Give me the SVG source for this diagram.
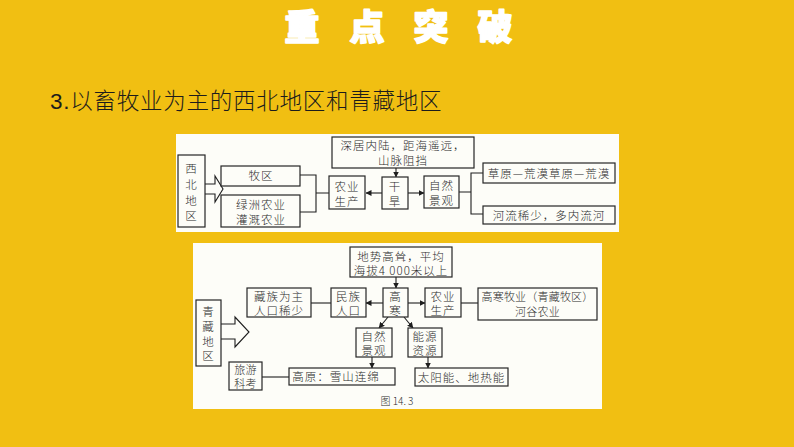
<svg xmlns="http://www.w3.org/2000/svg" width="794" height="447" viewBox="0 0 794 447">
<style>
text{font-family:"Noto Sans CJK SC","Liberation Serif",serif;fill:#2c2c2c;font-size:11.500px;font-weight:300;text-anchor:middle;letter-spacing:1px}
.s{font-size:11px;letter-spacing:.2px}
.box{fill:#fdfdf8;stroke:#262626;stroke-width:1.2}
.ln{fill:none;stroke:#1e1e1e;stroke-width:1.1}
.arw{marker-end:url(#a)}
.title{fill:#fff;font-size:35px;font-weight:900;stroke:#fff;stroke-width:1.6;stroke-linejoin:round;letter-spacing:0}
.head{fill:#1c1c1c;font-size:22.500px;font-weight:300;text-anchor:start;letter-spacing:.75px}
</style>
<defs><marker id="a" viewBox="0 0 6 6" refX="5.500" refY="3" markerWidth="6" markerHeight="6" orient="auto" markerUnits="userSpaceOnUse"><path d="M0 0L6 3L0 6Z" fill="#1e1e1e"/></marker></defs>
<rect width="794" height="447" fill="#f1bf12"/>
<g id="heading">
<text class="title" x="302" y="40">重</text><text class="title" x="367" y="40">点</text><text class="title" x="431" y="40">突</text><text class="title" x="495" y="40">破</text>
<text class="head" x="50" y="109"><tspan font-family="Liberation Sans">3.</tspan>以畜牧业为主的西北地区和青藏地区</text>
</g>
<rect x="176" y="134" width="443" height="98" fill="#fdfdf8"/>
<rect x="193" y="243" width="409" height="166" fill="#fdfdf8"/>
<g id="connectors">
<path class="ln" d="M205 184H215V176L223 189L215 202V194H205"/>
<path class="ln" d="M300 175H316V212H300M316 193H329"/>
<path class="ln arw" d="M382 193H366"/>
<path class="ln arw" d="M396 168V177"/>
<path class="ln arw" d="M408 193H424"/>
<path class="ln" d="M459 192H471M483 173H471V214H483"/>
<path class="ln" d="M221 324H235V317L249 332L235 347V339H221"/>
<path class="ln arw" d="M396 277V288"/>
<path class="ln arw" d="M383 303H366"/>
<path class="ln" d="M331 303H311"/>
<path class="ln arw" d="M408 303H425"/>
<path class="ln" d="M461 303H478"/>
<path class="ln arw" d="M388 317L379 328"/>
<path class="ln arw" d="M404 317L413 328"/>
<path class="ln arw" d="M372 357V368"/>
<path class="ln arw" d="M428 357V368"/>
<path class="ln" d="M262 377H289"/>
</g>
<g id="n-xibei"><rect class="box" x="178" y="155" width="27" height="72"/><text><tspan x="191.500" y="173">西</tspan><tspan x="191.500" y="189">北</tspan><tspan x="191.500" y="205">地</tspan><tspan x="191.500" y="220">区</tspan></text></g>
<g id="n-muqu"><rect class="box" x="221" y="166" width="79" height="20"/><text x="261" y="180">牧区</text></g>
<g id="n-lvzhou"><rect class="box" x="221" y="195" width="79" height="32"/><text><tspan x="261" y="209">绿洲农业</tspan><tspan x="261" y="224">灌溉农业</tspan></text></g>
<g id="n-nongye1"><rect class="box" x="329" y="176" width="36" height="33"/><text><tspan x="347" y="191">农业</tspan><tspan x="347" y="206">生产</tspan></text></g>
<g id="n-ganhan"><rect class="box" x="382" y="177" width="26" height="32"/><text><tspan x="395" y="191">干</tspan><tspan x="395" y="206">旱</tspan></text></g>
<g id="n-shenju"><rect class="box" x="332" y="137" width="142" height="31"/><text><tspan x="403" y="150">深居内陆，距海遥远，</tspan><tspan x="403" y="165">山脉阻挡</tspan></text></g>
<g id="n-ziran1"><rect class="box" x="424" y="176" width="35" height="32"/><text><tspan x="441.500" y="190">自然</tspan><tspan x="441.500" y="205">景观</tspan></text></g>
<g id="n-caoyuan"><rect class="box" x="483" y="163" width="132" height="20"/><text x="549" y="178">草原—荒漠草原—荒漠</text></g>
<g id="n-heliu"><rect class="box" x="483" y="206" width="132" height="18"/><text x="549" y="220">河流稀少，多内流河</text></g>
<g id="n-dishi"><rect class="box" x="350" y="247" width="102" height="30"/><text><tspan x="401" y="261">地势高耸，平均</tspan><tspan x="401" y="275">海拔4 000米以上</tspan></text></g>
<g id="n-gaohan"><rect class="box" x="383" y="288" width="25" height="29"/><text><tspan x="395.500" y="301">高</tspan><tspan x="395.500" y="315">寒</tspan></text></g>
<g id="n-minzu"><rect class="box" x="331" y="288" width="35" height="29"/><text><tspan x="348.500" y="301">民族</tspan><tspan x="348.500" y="315">人口</tspan></text></g>
<g id="n-zangzu"><rect class="box" x="247" y="288" width="64" height="29"/><text><tspan x="279" y="301">藏族为主</tspan><tspan x="279" y="315">人口稀少</tspan></text></g>
<g id="n-qingzang"><rect class="box" x="196" y="300" width="25" height="66"/><text><tspan x="208.500" y="316">青</tspan><tspan x="208.500" y="331">藏</tspan><tspan x="208.500" y="346">地</tspan><tspan x="208.500" y="360">区</tspan></text></g>
<g id="n-ziran2"><rect class="box" x="356" y="328" width="36" height="29"/><text><tspan x="374" y="341">自然</tspan><tspan x="374" y="355">景观</tspan></text></g>
<g id="n-nengyuan"><rect class="box" x="408" y="328" width="34" height="29"/><text><tspan x="425" y="341">能源</tspan><tspan x="425" y="355">资源</tspan></text></g>
<g id="n-lvyou"><rect class="box" x="229" y="362" width="33" height="28"/><text class="s"><tspan x="245.500" y="374">旅游</tspan><tspan x="245.500" y="388">科考</tspan></text></g>
<g id="n-gaoyuan"><rect class="box" x="289" y="368" width="106" height="17"/><text x="336" y="381">高原：雪山连绵</text></g>
<g id="n-taiyang"><rect class="box" x="415" y="368" width="93" height="18"/><text x="461.500" y="382">太阳能、地热能</text></g>
<g id="n-nongye2"><rect class="box" x="425" y="288" width="36" height="29"/><text><tspan x="443" y="301">农业</tspan><tspan x="443" y="315">生产</tspan></text></g>
<g id="n-gaohanmu"><rect class="box" x="478" y="288" width="119" height="32"/><text class="s"><tspan x="537.500" y="301">高寒牧业（青藏牧区）</tspan><tspan x="537.500" y="316">河谷农业</tspan></text></g>
<text x="397" y="405" style="font-size:10px;letter-spacing:0">图 14. 3</text>
</svg>
